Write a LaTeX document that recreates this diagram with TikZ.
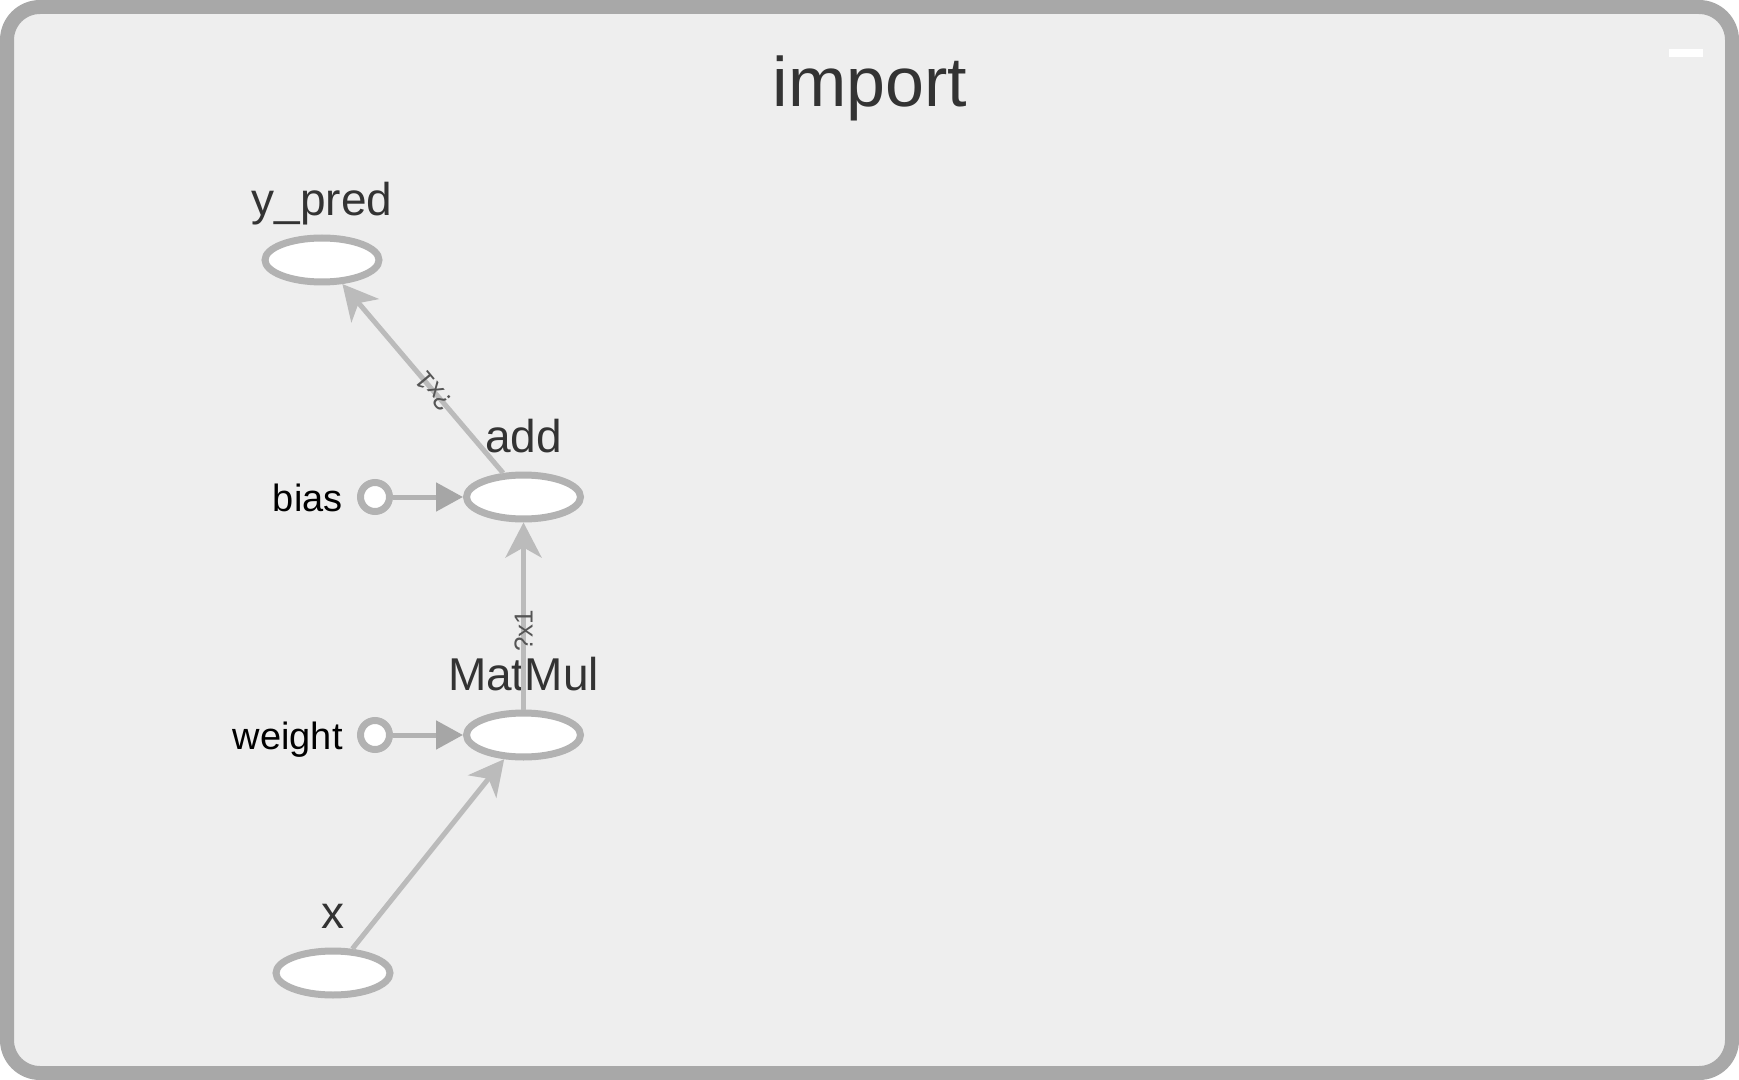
\documentclass[tikz,border=0pt]{standalone}
\usepackage{fontspec}
\setmainfont{Liberation Sans}
\usetikzlibrary{arrows.meta}
\usetikzlibrary{positioning}
\usetikzlibrary{shapes.geometric}
\definecolor{frame}{HTML}{A8A8A8}
\definecolor{panel}{HTML}{EEEEEE}
\definecolor{opline}{HTML}{B2B2B2}
\definecolor{flow}{HTML}{BBBBBB}
\definecolor{refhead}{HTML}{A6A6A6}
\definecolor{ink}{HTML}{333333}
\definecolor{shapeink}{HTML}{555555}

\begin{document}
\begin{tikzpicture}[x=0.5pt,y=-0.5pt,
	op/.style={draw=opline,fill=white,ellipse,line width=3.5pt,minimum width=57pt,minimum height=22pt,inner sep=0pt},
	var/.style={draw=opline,fill=white,circle,line width=3.5pt,minimum size=14.5pt,inner sep=0pt},
	oplbl/.style={text=ink,font=\fontsize{23}{23}\selectfont,inner sep=0pt,text height=8pt,text depth=2pt},
	varlbl/.style={text=black,font=\fontsize{19}{19}\selectfont,inner sep=0pt,text height=14.5pt,text depth=0.1pt},
	shp/.style={text=shapeink,font=\fontsize{13}{13}\selectfont,inner sep=1pt},
	dataflow/.style={draw=flow,line width=2.5pt,-{Stealth[length=17.5pt,width=18pt,inset=5pt,fill=flow]}},
	refflow/.style={draw=opline,line width=2.5pt,-{Triangle[length=13.5pt,width=14pt,fill=refhead,color=refhead]}}]
	\useasboundingbox (0,0) rectangle (1739,1080);
	\draw[frame,line width=7pt,fill=panel,rounded corners=16.5pt] (7,7) rectangle (1732,1073);
	\fill[white] (1669,49) rectangle (1703,57);
	\node[text=ink,font=\fontsize{35}{35}\selectfont,anchor=base] (title) at (870,107) {import};
	
	\node[op] (ypred) at (322,260) {};
	\node[op] (add) at (523.5,497) {};
	\node[op] (matmul) at (523.5,735) {};
	\node[op] (x) at (333,973) {};
	\node[var] (bias) at (375,497) {};
	\node[var] (weight) at (375,735) {};
	
	\node[oplbl,above=7.5pt of ypred] (ypredlbl) {y\_pred};
	\node[oplbl,above=7.5pt of add] (addlbl) {add};
	\node[oplbl,above=7.5pt of matmul] (matmullbl) {MatMul};
	\node[oplbl,above=7.5pt of x] (xlbl) {x};
	\node[varlbl,left=7pt of bias] (biaslbl) {bias};
	\node[varlbl,left=7pt of weight] (weightlbl) {weight};
	
	\draw[dataflow] (x) -- (matmul);
	\draw[dataflow] (matmul) -- node[shp,pos=0.42,rotate=90] {?x1} (add);
	\draw[dataflow] (add) -- node[shp,pos=0.43,rotate=130] {?x1} (ypred);
	\draw[refflow] (bias) -- (add);
	\draw[refflow] (weight) -- (matmul);
\end{tikzpicture}
\end{document}
